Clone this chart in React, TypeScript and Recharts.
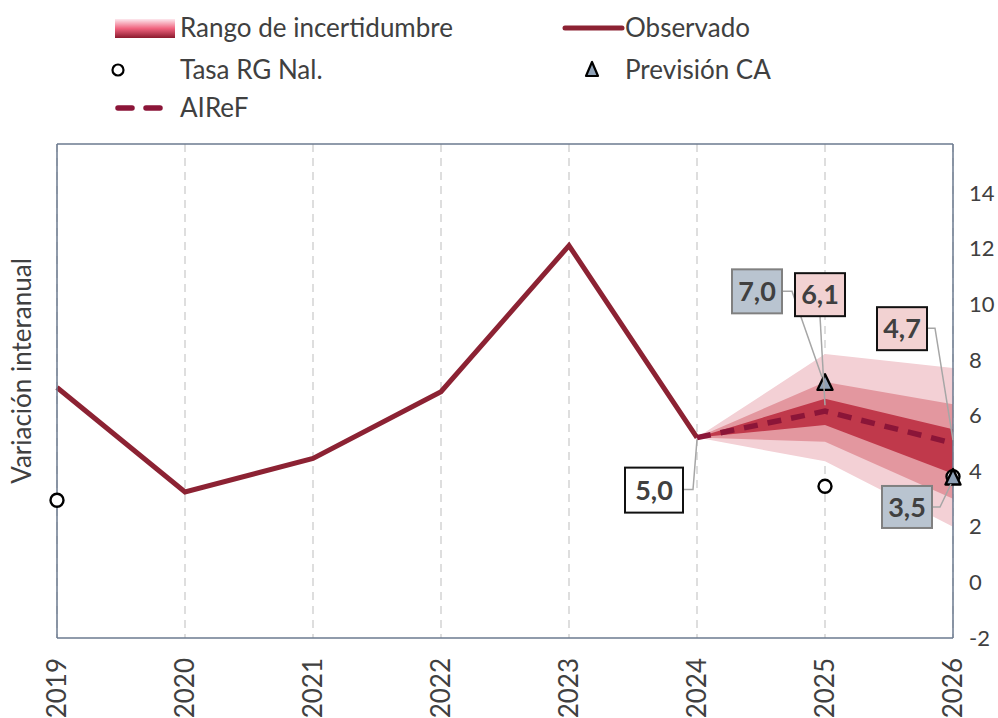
import {
  Area,
  CartesianGrid,
  ComposedChart,
  LabelList,
  Legend,
  Line,
  ReferenceLine,
  XAxis,
  YAxis,
} from "recharts";

const years = ["2019", "2020", "2021", "2022", "2023", "2024", "2025", "2026"];
const observado = [7.0, 3.25, 4.45, 6.85, 12.1, 5.2, null, null];
const airef = [null, null, null, null, null, 5.2, 6.15, 5.0];
const bandaExtLo = [null, null, null, null, null, 5.2, 4.35, 2.0];
const bandaExtHi = [null, null, null, null, null, 5.2, 8.2, 7.7];
const bandaMedLo = [null, null, null, null, null, 5.2, 5.05, 3.0];
const bandaMedHi = [null, null, null, null, null, 5.2, 7.2, 6.4];
const bandaIntLo = [null, null, null, null, null, 5.2, 5.65, 3.9];
const bandaIntHi = [null, null, null, null, null, 5.2, 6.6, 5.5];
const tasaNacional = [2.95, null, null, null, null, null, 3.45, 3.8];
const prevision = [null, null, null, null, null, null, 7.15, 3.75];

// valores que aparecen en las etiquetas
const etiquetaObservado = [null, null, null, null, null, 5.0, null, null];
const etiquetaAiref = [null, null, null, null, null, null, 6.1, 4.7];
const etiquetaPrevision = [null, null, null, null, null, null, 7.0, 3.5];

const yTicks = [-2, 0, 2, 4, 6, 8, 10, 12, 14];
const Y_DOMAIN: [number, number] = [-2, 15.75];

const rango = (lo: (number | null)[], hi: (number | null)[], i: number) =>
  lo[i] == null || hi[i] == null ? null : [lo[i], hi[i]];

const rows = years.map((year, i) => ({
  year,
  observado: observado[i],
  airef: airef[i],
  ext: rango(bandaExtLo, bandaExtHi, i),
  med: rango(bandaMedLo, bandaMedHi, i),
  int: rango(bandaIntLo, bandaIntHi, i),
  tasa: tasaNacional[i],
  prevision: prevision[i],
}));

const FONT = "Lato, 'Open Sans', sans-serif";
const TEXT = "#404040";
const BORDER = "#6b7a8f";
const RED = "#8c2233";
const DASH_RED = "#8b1538";
const TRI_FILL = "#8fa1b6";

const fmt = (v: number) => v.toFixed(1).replace(".", ",");

// caja + línea guía, relativas al punto
type Caja = { dx: number; dy: number; w: number; h: number; lead: number[][] };
const estiloCaja = {
  gris: { fill: "#b9c4d0", stroke: "#808080" },
  rosa: { fill: "#f2d2d2", stroke: "#111" },
  blanca: { fill: "#fff", stroke: "#111" },
};
const cajasObservado: Record<number, Caja> = {
  5: { dx: -72, dy: 30, w: 58, h: 45, lead: [[-14, 52], [-4, 52], [0, 2]] },
};
const cajasPrevision: Record<number, Caja> = {
  6: { dx: -93, dy: -114, w: 50, h: 44, lead: [[-43, -92], [-33, -92], [-3, -6]] },
  7: { dx: -71, dy: 8, w: 50, h: 42, lead: [[-21, 29], [-13, 29], [-2, 6]] },
};
const cajasAiref: Record<number, Caja> = {
  6: { dx: -30, dy: -138, w: 50, h: 43, lead: [[-5, -95], [0, -6]] },
  7: { dx: -76, dy: -136, w: 50, h: 43, lead: [[-26, -115], [-18, -115], [0, -3]] },
};

function anotacion(
  cajas: Record<number, Caja>,
  etiquetas: (number | null)[],
  estilo: { fill: string; stroke: string }
) {
  return (props: any) => {
    const { x, y, index } = props;
    const c = cajas[index];
    const v = etiquetas[index];
    if (!c || v == null || x == null || y == null) return null;
    const pts = c.lead.map(([a, b]) => `${x + a},${y + b}`).join(" ");
    return (
      <g key={`a-${index}`}>
        <polyline points={pts} fill="none" stroke="#a6a6a6" strokeWidth={1.5} />
        <rect
          x={x + c.dx}
          y={y + c.dy}
          width={c.w}
          height={c.h}
          fill={estilo.fill}
          stroke={estilo.stroke}
          strokeWidth={2}
        />
        <text
          x={x + c.dx + c.w / 2}
          y={y + c.dy + c.h / 2}
          dy="0.36em"
          textAnchor="middle"
          fontFamily={FONT}
          fontWeight={700}
          fontSize={27}
          fill={TEXT}
        >
          {fmt(v)}
        </text>
      </g>
    );
  };
}

const Circulo = (props: any) => {
  const { cx, cy, index } = props;
  if (cx == null || cy == null || props.value == null) return <g key={`c-${index}`} />;
  return <circle key={`c-${index}`} cx={cx} cy={cy} r={6.5} fill="#fff" stroke="#000" strokeWidth={2.4} />;
};

const Triangulo = (props: any) => {
  const { cx, cy, index } = props;
  if (cx == null || cy == null || props.value == null) return <g key={`t-${index}`} />;
  return (
    <polygon
      key={`t-${index}`}
      points={`${cx},${cy - 9} ${cx - 7.5},${cy + 6.5} ${cx + 7.5},${cy + 6.5}`}
      fill={TRI_FILL}
      stroke="#000"
      strokeWidth={2.4}
      strokeLinejoin="round"
    />
  );
};

const YearTick = (props: any) => {
  const { x, y, payload } = props;
  const ty = y + 12;
  return (
    <text
      x={x}
      y={ty}
      transform={`rotate(-90 ${x} ${ty})`}
      textAnchor="end"
      dy="0.36em"
      fontFamily={FONT}
      fontSize={26}
      fill={TEXT}
    >
      {payload.value}
    </text>
  );
};

const YTitle = () => (
  <text
    x={22}
    y={371}
    transform="rotate(-90 22 371)"
    textAnchor="middle"
    dy="0.36em"
    fontFamily={FONT}
    fontSize={26}
    fill={TEXT}
  >
    Variación interanual
  </text>
);

const Leyenda = () => (
  <svg width={998} height={130} style={{ display: "block" }}>
    <defs>
      <linearGradient id="gradRango" x1="0" y1="0" x2="0" y2="1">
        <stop offset="0" stopColor="#fde8ee" />
        <stop offset="0.5" stopColor="#f0637e" />
        <stop offset="1" stopColor="#8b1a2e" />
      </linearGradient>
    </defs>
    <g fontFamily={FONT} fontSize={26} fill={TEXT}>
      <rect x={115} y={19} width={60} height={19} fill="url(#gradRango)" />
      <text x={180} y={28} dy="0.36em">Rango de incertidumbre</text>
      <line x1={565} y1={28} x2={622} y2={28} stroke={RED} strokeWidth={5} strokeLinecap="round" />
      <text x={625} y={28} dy="0.36em">Observado</text>
      <circle cx={118} cy={70} r={5.5} fill="#fff" stroke="#000" strokeWidth={2.2} />
      <text x={180} y={70} dy="0.36em">Tasa RG Nal.</text>
      <polygon points="592,62 586,76 598,76" fill={TRI_FILL} stroke="#000" strokeWidth={2.2} strokeLinejoin="round" />
      <text x={625} y={70} dy="0.36em">Previsión CA</text>
      <line
        x1={118}
        y1={108}
        x2={174}
        y2={108}
        stroke={DASH_RED}
        strokeWidth={5.5}
        strokeDasharray="14 14"
        strokeLinecap="round"
      />
      <text x={180} y={108} dy="0.36em">AIReF</text>
    </g>
  </svg>
);

export default function App() {
  return (
    <div style={{ position: "absolute", left: 0, top: 0, width: 998, height: 718, background: "#fff" }}>
      <ComposedChart
        width={998}
        height={718}
        data={rows}
        margin={{ top: 144, right: 0, bottom: 0, left: 0 }}
      >
        <CartesianGrid horizontal={false} stroke="#d4d4d4" strokeWidth={1.5} strokeDasharray="8 6" />
        <XAxis
          dataKey="year"
          scale="point"
          padding={{ left: 0, right: 0 }}
          interval={0}
          height={80}
          tickLine={false}
          axisLine={{ stroke: BORDER, strokeWidth: 1.5 }}
          tick={<YearTick />}
        />
        <YAxis
          yAxisId="left"
          width={57}
          domain={Y_DOMAIN}
          allowDataOverflow
          tick={false}
          tickLine={false}
          axisLine={{ stroke: BORDER, strokeWidth: 1.5 }}
          label={<YTitle />}
        />
        <YAxis
          yAxisId="right"
          orientation="right"
          width={45}
          domain={Y_DOMAIN}
          allowDataOverflow
          ticks={yTicks}
          interval={0}
          tickLine={false}
          tickMargin={10}
          axisLine={{ stroke: BORDER, strokeWidth: 1.5 }}
          tick={{ fontSize: 22, fill: TEXT, fontFamily: FONT, textAnchor: "start" }}
        />
        <ReferenceLine yAxisId="right" y={Y_DOMAIN[1]} stroke={BORDER} strokeWidth={1.5} />
        <Legend
          content={<Leyenda />}
          verticalAlign="middle"
          align="center"
          wrapperStyle={{ position: "absolute", top: 0, left: 0, width: 998, height: 130 }}
        />
        <Area yAxisId="right" dataKey="ext" stroke="none" fill="#f3d0d5" fillOpacity={1} isAnimationActive={false} dot={false} activeDot={false} />
        <Area yAxisId="right" dataKey="med" stroke="none" fill="#e3979f" fillOpacity={1} isAnimationActive={false} dot={false} activeDot={false} />
        <Area yAxisId="right" dataKey="int" stroke="none" fill="#c0394b" fillOpacity={1} isAnimationActive={false} dot={false} activeDot={false} />
        <Line
          yAxisId="right"
          dataKey="observado"
          stroke={RED}
          strokeWidth={5}
          dot={false}
          activeDot={false}
          isAnimationActive={false}
        >
          <LabelList dataKey="observado" content={anotacion(cajasObservado, etiquetaObservado, estiloCaja.blanca)} />
        </Line>
        <Line
          yAxisId="right"
          dataKey="tasa"
          stroke="none"
          dot={<Circulo />}
          activeDot={false}
          isAnimationActive={false}
        />
        <Line
          yAxisId="right"
          dataKey="prevision"
          stroke="none"
          dot={<Triangulo />}
          activeDot={false}
          isAnimationActive={false}
        >
          <LabelList dataKey="prevision" content={anotacion(cajasPrevision, etiquetaPrevision, estiloCaja.gris)} />
        </Line>
        <Line
          yAxisId="right"
          dataKey="airef"
          stroke={DASH_RED}
          strokeWidth={5.5}
          strokeDasharray="14 10"
          dot={false}
          activeDot={false}
          isAnimationActive={false}
        >
          <LabelList dataKey="airef" content={anotacion(cajasAiref, etiquetaAiref, estiloCaja.rosa)} />
        </Line>
      </ComposedChart>
    </div>
  );
}
